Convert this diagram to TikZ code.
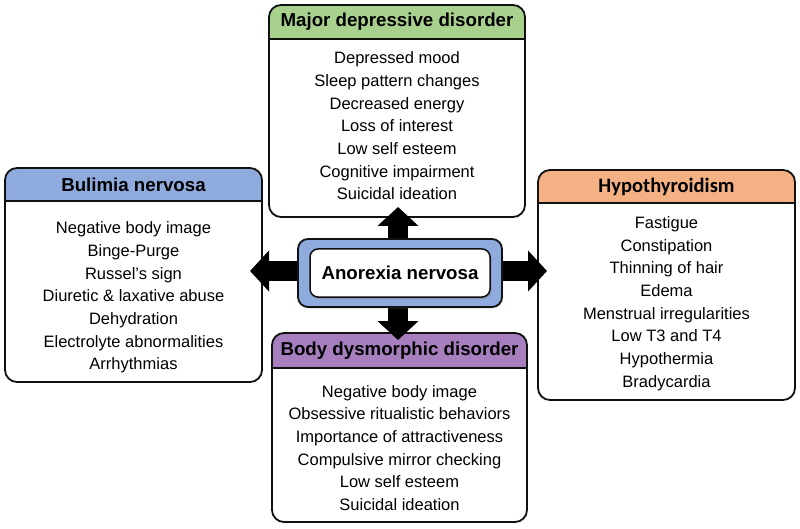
\documentclass[tikz,border=0pt]{standalone}
\usepackage{fontspec}
\setmainfont{Liberation Sans}
\newfontfamily\carlito{Carlito}
\usetikzlibrary{fit,arrows.meta,shadows}
\definecolor{hgreen}{HTML}{A9D18E}
\definecolor{hblue}{HTML}{8FAADC}
\definecolor{horange}{HTML}{F4B183}
\definecolor{hpurple}{HTML}{A77FBF}
\definecolor{edge}{HTML}{111111}
\tikzset{
  boxline/.style={draw=edge, line width=1.8pt},
  titletext/.style={font=\bfseries\fontsize{18.7}{22}\selectfont, inner sep=0pt},
  bodytext/.style={align=center, font=\fontsize{16.5}{22.67}\selectfont, inner sep=0pt},
  fatarrow/.style={draw=black, line width=20pt, -{Triangle[width=40pt,length=19pt]}},
}
\newcommand\diagbox[8]{%
  \fill[white, rounded corners=12pt] (#2,#3) rectangle (#4,#5);
  \begin{scope}
    \clip[rounded corners=12pt] (#2,#3) rectangle (#4,#5);
    \fill[#7] (#2,#3) rectangle (#4,#6);
  \end{scope}
  \draw[boxline] (#2,#6) -- (#4,#6);
  \node[fit={(#2,#3) (#4,#5)}, inner sep=0pt, outer sep=0pt, boxline, rounded corners=12pt] (#1) {};
  \node[titletext] (#1-title) at ({(#2+#4)/2},{(#3+#6)/2}) {#8};
}
\begin{document}
\begin{tikzpicture}[x=1pt,y=-1pt]
\useasboundingbox (0,0) rectangle (800,529);
\diagbox{mdd}{269}{5}{525}{217}{39}{hgreen}{Major depressive disorder}
\node[bodytext] (mdd-body) at (397,126) {Depressed mood\\Sleep pattern changes\\Decreased energy\\Loss of interest\\Low self esteem\\Cognitive impairment\\Suicidal ideation};
\diagbox{bul}{5}{168}{262}{382}{201}{hblue}{Bulimia nervosa}
\node[bodytext] (bul-body) at (133.5,297.5) {Negative body image\\Binge-Purge\\Russel’s sign\\Diuretic \& laxative abuse\\Dehydration\\Electrolyte abnormalities\\Arrhythmias};
\diagbox{hyp}{538}{170}{795}{400}{203}{horange}{{\carlito\fontsize{20.5}{24}\selectfont Hypothyroidism}}
\node[bodytext] (hyp-body) at (666.5,303.5) {Fastigue\\Constipation\\Thinning of hair\\Edema\\Menstrual irregularities\\Low T3 and T4\\Hypothermia\\Bradycardia};
\diagbox{bdd}{272}{333}{527}{522}{368}{hpurple}{Body dysmorphic disorder}
\node[bodytext] (bdd-body) at (399.5,448) {Negative body image\\Obsessive ritualistic behaviors\\Importance of attractiveness\\Compulsive mirror checking\\Low self esteem\\Suicidal ideation};
% center anchor for arrows
\coordinate (hub) at (398,271);
\draw[fatarrow, shorten >=-10pt] (hub) -- (hub |- mdd.south);
\draw[fatarrow, shorten >=-7pt] (hub) -- (hub |- bdd.north);
\draw[fatarrow, shorten >=-12pt] (hub) -- (hub -| bul.east);
\draw[fatarrow, shorten >=-9pt] (hub) -- (hub -| hyp.west);
% central node
\node[fit={(298,239) (502,307)}, inner sep=0pt, fill=hblue, draw=edge, line width=1.8pt, rounded corners=10pt,
  drop shadow={shadow xshift=1pt, shadow yshift=-1.5pt, opacity=0.3}] (anout) {};
\node[fit={(310,249) (490,297)}, inner sep=0pt, fill=white, draw=edge, line width=1.5pt, rounded corners=8pt,
  drop shadow={shadow xshift=1.5pt, shadow yshift=-2pt, opacity=0.45}] (an) {};
\node[titletext] (an-text) at (an.center) {Anorexia nervosa};
\end{tikzpicture}
\end{document}
